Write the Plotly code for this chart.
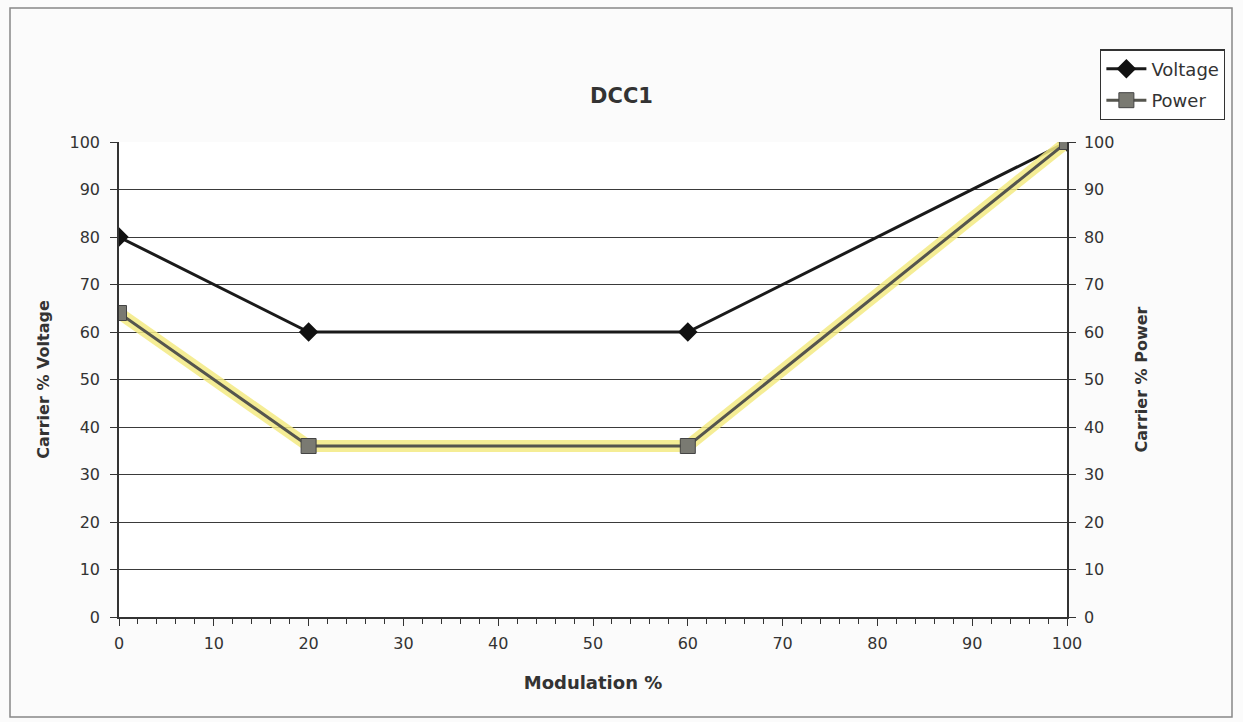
import plotly.graph_objects as go

modulation = [0, 20, 60, 100]
voltage = [80, 60, 60, 100]
power = [64, 36, 36, 100]
y_ticks = [0, 10, 20, 30, 40, 50, 60, 70, 80, 90, 100]
x_ticks = [0, 10, 20, 30, 40, 50, 60, 70, 80, 90, 100]

FONT = "DejaVu Sans, Arial, sans-serif"

fig = go.Figure()

# yellow highlighter stroke under the Power line
fig.add_trace(go.Scatter(x=modulation, y=power, yaxis="y2", mode="lines",
                         line=dict(color="rgba(243,234,130,0.85)", width=12),
                         showlegend=False, hoverinfo="skip"))
fig.add_trace(go.Scatter(x=modulation, y=voltage, name="Voltage", mode="lines+markers",
                         legendgroup="v",
                         line=dict(color="#1a1a1a", width=3),
                         marker=dict(symbol="diamond", size=15, color="#111")))
fig.add_trace(go.Scatter(x=modulation, y=power, name="Power", yaxis="y2", mode="lines+markers",
                         legendgroup="p",
                         line=dict(color="#55554e", width=3),
                         marker=dict(symbol="square", size=15, color="#7a7a72",
                                     line=dict(color="#444", width=1))))

font_axis = dict(family=FONT, size=16, color="#333")

fig.update_layout(
    width=1243, height=722,
    margin=dict(l=119, r=176, t=142, b=105),
    paper_bgcolor="#fbfbfb", plot_bgcolor="white",
    font=dict(family=FONT, color="#333"),
    title=dict(text="<b>DCC1</b>", x=0.5, xanchor="center", y=0.868, yanchor="middle",
               font=dict(size=21, color="#333", family=FONT)),
    xaxis=dict(range=[0, 100], tickvals=x_ticks, ticks="outside", ticklen=7, tickcolor="#333",
               tickwidth=1.3, showgrid=False, zeroline=False, showline=True, linecolor="#333",
               linewidth=1.5, tickfont=font_axis, ticklabelstandoff=4,
               minor=dict(dtick=2, ticks="outside", ticklen=5, tickcolor="#333", showgrid=False),
               title=dict(text="<b>Modulation %</b>", font=dict(size=18, color="#333", family=FONT),
                          standoff=24)),
    yaxis=dict(range=[0, 100], tickvals=y_ticks, ticks="outside", ticklen=7, tickcolor="#333",
               showgrid=True, gridcolor="#3a3a3a", gridwidth=1.4, zeroline=False,
               showline=True, linecolor="#333", linewidth=1.5, tickfont=font_axis,
               ticklabelstandoff=7,
               title=dict(text="<b>Carrier % Voltage</b>", font=dict(size=16, color="#333", family=FONT),
                          standoff=16)),
    yaxis2=dict(range=[0, 100], tickvals=y_ticks, overlaying="y", side="right", ticks="outside",
                ticklen=7, tickcolor="#333", showgrid=False, zeroline=False, showline=True,
                linecolor="#333", linewidth=1.5, tickfont=font_axis, ticklabelstandoff=5,
                title=dict(text="<b>Carrier % Power</b>", font=dict(size=16, color="#333", family=FONT),
                           standoff=22)),
    legend=dict(x=1.035, y=1.195, xanchor="left", yanchor="top", bgcolor="white",
                bordercolor="#333", borderwidth=1.2, font=dict(size=18, color="#333", family=FONT),
                tracegroupgap=5, itemwidth=40),
    shapes=[dict(type="rect", xref="paper", yref="paper",
                 x0=(10 - 119) / 948, x1=(1232 - 119) / 948,
                 y0=(617 - 717) / 475, y1=(617 - 8) / 475,
                 line=dict(color="#888", width=1.5), fillcolor="rgba(0,0,0,0)", layer="below")],
)

fig.write_html("out.html")
